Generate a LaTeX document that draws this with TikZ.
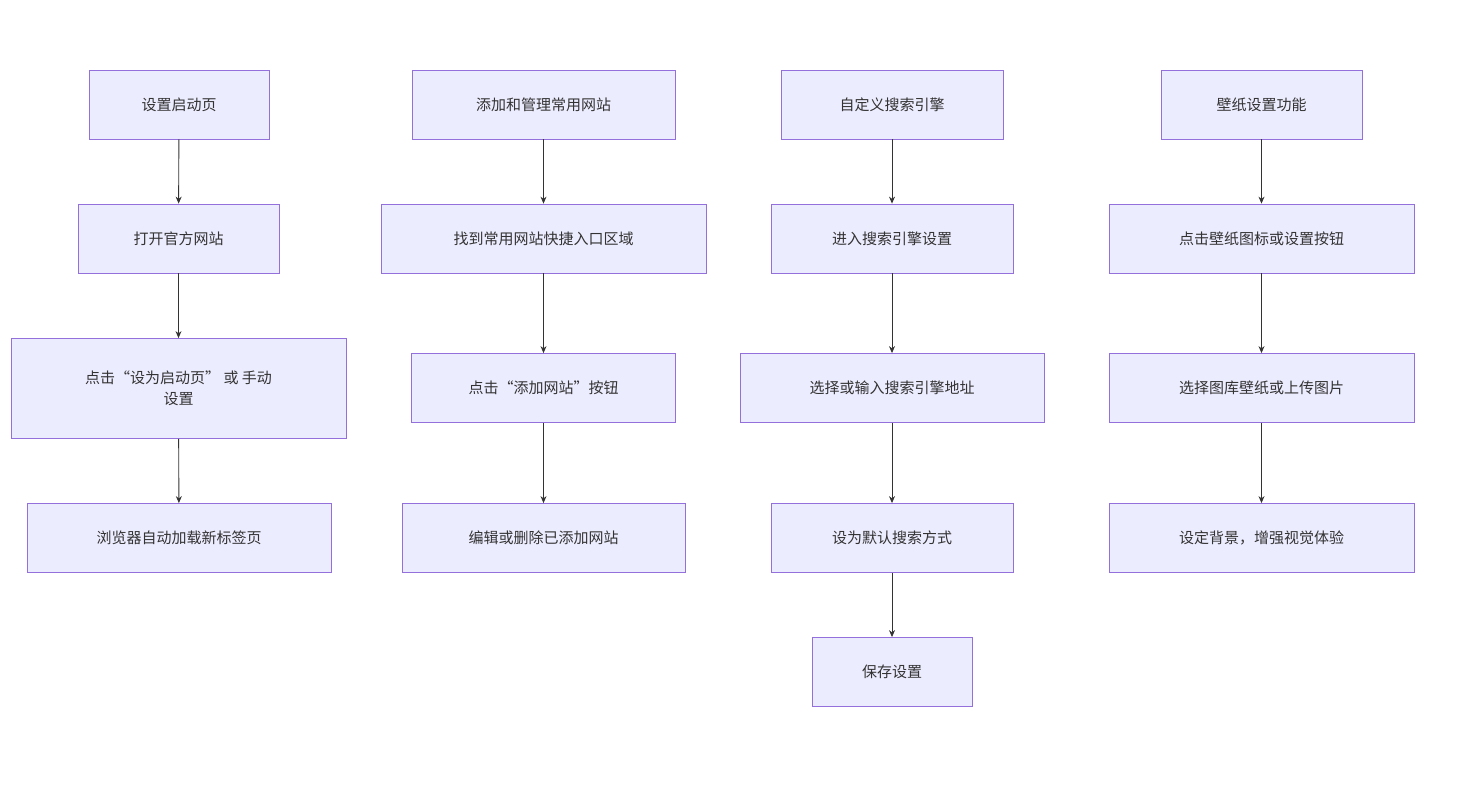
\documentclass[tikz,border=0pt]{standalone}
\usepackage{fontspec}
\setmainfont{Noto Sans CJK SC}
\usetikzlibrary{arrows.meta}
\definecolor{bf}{HTML}{ECECFF}
\definecolor{bd}{HTML}{9370DB}
\definecolor{tx}{HTML}{333333}
\begin{document}
\begin{tikzpicture}[x=1pt,y=-1pt,
 b/.style={draw=bd,fill=bf,line width=0.8pt,text=tx,font=\fontsize{15}{21}\selectfont,align=center,inner sep=0pt,minimum height=69pt},
 a/.style={draw=tx,line width=0.9pt,-{Stealth[length=7pt,width=6pt]}}]
\useasboundingbox (0,0) rectangle (1468,800);
\node[b,minimum width=180pt] (a1) at (179,104.5) {设置启动页};
\node[b,minimum width=201pt] (a2) at (178.5,238.5) {打开官方网站};
\node[b,minimum width=335pt,minimum height=100pt] (a3) at (178.5,388.5) {点击“设为启动页” 或 手动\\设置};
\node[b,minimum width=304pt] (a4) at (179,538) {浏览器自动加载新标签页};
\node[b,minimum width=263pt] (b1) at (543.5,104.5) {添加和管理常用网站};
\node[b,minimum width=325pt] (b2) at (543.5,238.5) {找到常用网站快捷入口区域};
\node[b,minimum width=264pt] (b3) at (543.5,388) {点击“添加网站”按钮};
\node[b,minimum width=283pt] (b4) at (543.5,538) {编辑或删除已添加网站};
\node[b,minimum width=222pt] (c1) at (892,104.5) {自定义搜索引擎};
\node[b,minimum width=242pt] (c2) at (892,238.5) {进入搜索引擎设置};
\node[b,minimum width=304pt] (c3) at (892,388) {选择或输入搜索引擎地址};
\node[b,minimum width=242pt] (c4) at (892,538) {设为默认搜索方式};
\node[b,minimum width=160pt] (c5) at (892,672) {保存设置};
\node[b,minimum width=201pt] (d1) at (1261.5,104.5) {壁纸设置功能};
\node[b,minimum width=305pt] (d2) at (1261.5,238.5) {点击壁纸图标或设置按钮};
\node[b,minimum width=305pt] (d3) at (1261.5,388) {选择图库壁纸或上传图片};
\node[b,minimum width=305pt] (d4) at (1261.5,538) {设定背景，增强视觉体验};
\foreach \p/\q in {a1/a2,a2/a3,a3/a4,b1/b2,b2/b3,b3/b4,c1/c2,c2/c3,c3/c4,c4/c5,d1/d2,d2/d3,d3/d4}
 \draw[a] (\p) -- (\q);
\end{tikzpicture}
\end{document}
